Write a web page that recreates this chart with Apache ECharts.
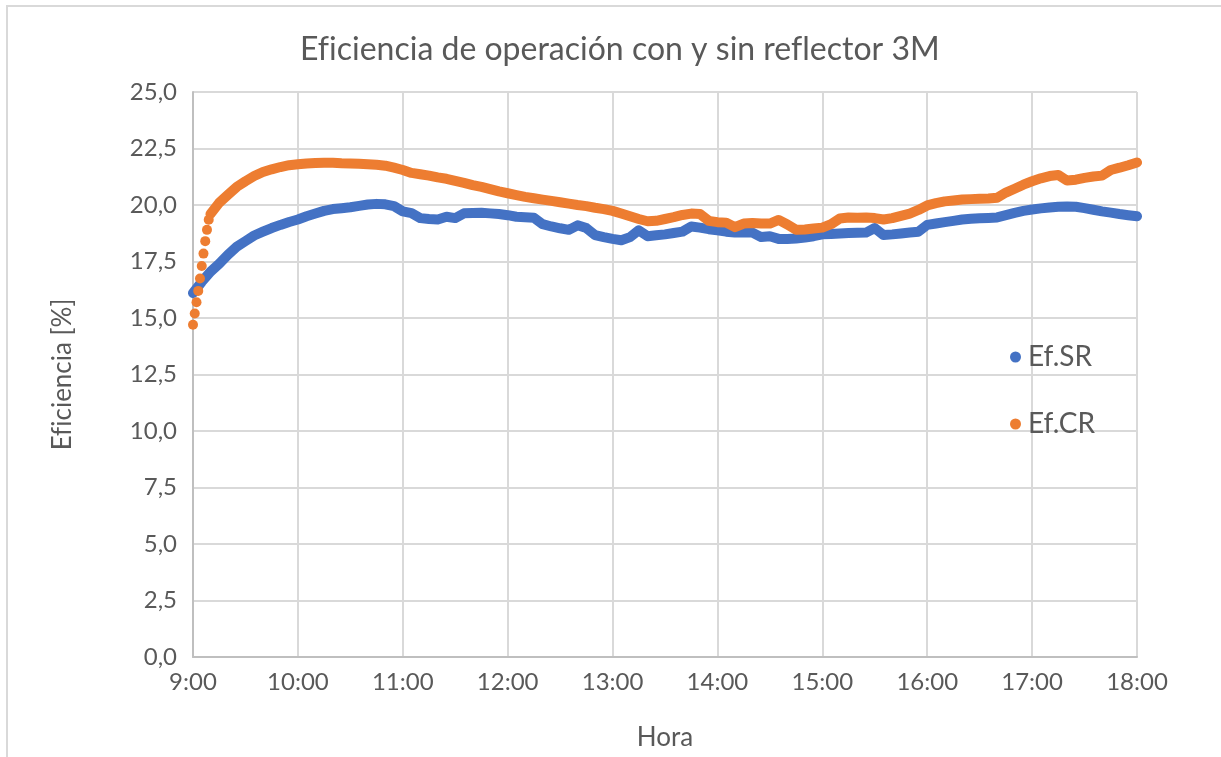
<!DOCTYPE html>
<html>
<head>
<meta charset="utf-8">
<script src="https://cdn.jsdelivr.net/npm/echarts@6/dist/echarts.min.js"></script>
<style>
html,body{margin:0;padding:0;background:#fff;overflow:hidden;}
#frame{position:absolute;left:6px;top:5px;width:1400px;height:900px;border-left:2px solid #d9d9d9;border-top:2px solid #d9d9d9;}
#c{position:absolute;left:0;top:0;width:1221px;height:757px;}
</style>
</head>
<body>
<div id="frame"></div>
<div id="c"></div>
<script>
// Time axis (minutes since midnight)
const startMin = 540, endMin = 1080;
const xTickLabels = ['9:00','10:00','11:00','12:00','13:00','14:00','15:00','16:00','17:00','18:00'];

// Ef.SR: every 5 min from 9:00 to 18:00
const efSR = [
  16.1, 16.6, 17.05, 17.4, 17.8, 18.15, 18.4, 18.65, 18.82, 18.98, 19.12, 19.25,
  19.36, 19.5, 19.62, 19.74, 19.82, 19.86, 19.9, 19.96, 20.02, 20.05, 20.03, 19.95,
  19.72, 19.64, 19.42, 19.38, 19.36, 19.48, 19.42, 19.63, 19.65, 19.66, 19.63, 19.6,
  19.55, 19.48, 19.46, 19.44, 19.15, 19.05, 18.97, 18.9, 19.1, 18.98, 18.67, 18.58,
  18.5, 18.44, 18.58, 18.88, 18.62, 18.66, 18.7, 18.76, 18.82, 19.05, 19.0, 18.93,
  18.88, 18.82, 18.78, 18.78, 18.78, 18.58, 18.62, 18.5, 18.5, 18.52, 18.56, 18.62,
  18.7, 18.72, 18.74, 18.76, 18.77, 18.78, 18.98, 18.67, 18.7, 18.74, 18.78, 18.82,
  19.12, 19.18, 19.24, 19.3, 19.36, 19.39, 19.41, 19.43, 19.45, 19.55, 19.65, 19.74,
  19.8, 19.85, 19.89, 19.92, 19.93, 19.92, 19.86, 19.79, 19.72, 19.66, 19.6, 19.55,
  19.5
];

// Ef.CR start-up: every minute from 9:00 to 9:09
const efCRStart = [14.7, 15.2, 15.7, 16.2, 16.75, 17.3, 17.85, 18.4, 18.9, 19.35];

// Ef.CR: every 5 min from 9:10 to 18:00
const efCR = [
  19.6, 20.1, 20.45, 20.8, 21.05, 21.28, 21.46, 21.58, 21.68, 21.76,
  21.8, 21.84, 21.86, 21.87, 21.87, 21.85, 21.84, 21.82, 21.8, 21.78, 21.74, 21.65,
  21.55, 21.42, 21.36, 21.3, 21.22, 21.16, 21.07, 20.98, 20.88, 20.8, 20.7, 20.6,
  20.52, 20.44, 20.36, 20.3, 20.24, 20.18, 20.12, 20.06, 20.0, 19.95, 19.88, 19.82,
  19.74, 19.62, 19.5, 19.38, 19.28, 19.3, 19.38, 19.46, 19.56, 19.62, 19.6, 19.3,
  19.24, 19.22, 19.02, 19.18, 19.2, 19.18, 19.18, 19.34, 19.14, 18.9, 18.92, 18.96,
  19.0, 19.15, 19.4, 19.45, 19.44, 19.45, 19.42, 19.36, 19.42, 19.52, 19.62, 19.78,
  19.98, 20.08, 20.16, 20.2, 20.24, 20.26, 20.28, 20.29, 20.32, 20.55, 20.72, 20.9,
  21.05, 21.18, 21.28, 21.33, 21.08, 21.12, 21.2, 21.26, 21.3, 21.55, 21.65, 21.76,
  21.88
];

const pairs = (t0, step, vals) => vals.map((v, i) => [t0 + i * step, v]);

const BLUE = '#4472c4', ORANGE = '#ed7d31', TXT = '#595959';
const FONT = 'Lato';
// zero-width non-joiner keeps "f" and "i" as separate letters (no ligature)
const ZWNJ = '\u200C';

const chart = echarts.init(document.getElementById('c'), null, {renderer: 'canvas'});
chart.setOption({
  backgroundColor: 'transparent',
  animation: false,
  textStyle: {fontFamily: FONT},
  title: {
    text: 'Ef' + ZWNJ + 'iciencia de operación con y sin ref' + ZWNJ + 'lector 3M',
    left: 295, top: 29,
    textStyle: {fontFamily: FONT, fontSize: 32, fontWeight: 'normal', color: TXT}
  },
  legend: {
    orient: 'vertical', left: 1005, top: 338, itemGap: 39,
    icon: 'circle', itemWidth: 11, itemHeight: 11,
    data: ['Ef.SR', 'Ef.CR'],
    textStyle: {fontFamily: FONT, fontSize: 28, color: TXT, padding: [0, 0, 0, 2]}
  },
  grid: {left: 193, right: 84, top: 92, bottom: 100, containLabel: false},
  xAxis: {
    type: 'value', min: startMin, max: endMin, interval: 60,
    name: 'Hora', nameLocation: 'middle', nameGap: 68,
    nameTextStyle: {fontFamily: FONT, fontSize: 26, color: TXT},
    axisLine: {show: true, lineStyle: {color: '#bfbfbf', width: 2}},
    axisTick: {show: false},
    axisLabel: {
      fontFamily: FONT, fontSize: 24, color: TXT, margin: 13,
      formatter: v => xTickLabels[Math.round((v - startMin) / 60)] || ''
    },
    splitLine: {show: true, lineStyle: {color: '#d9d9d9', width: 2}}
  },
  yAxis: {
    type: 'value', min: 0, max: 25, interval: 2.5,
    name: 'Ef' + ZWNJ + 'iciencia [%]', nameLocation: 'middle', nameGap: 117, nameRotate: 90,
    nameTextStyle: {fontFamily: FONT, fontSize: 26, color: TXT},
    axisLine: {show: true, lineStyle: {color: '#bfbfbf', width: 2}},
    axisTick: {show: false},
    axisLabel: {
      fontFamily: FONT, fontSize: 24, color: TXT, margin: 16,
      formatter: v => v.toFixed(1).replace('.', ',')
    },
    splitLine: {show: true, lineStyle: {color: '#d9d9d9', width: 2}}
  },
  series: [
    {
      name: 'Ef.SR', type: 'line', data: pairs(540, 5, efSR),
      showSymbol: false, symbol: 'circle', symbolSize: 10,
      itemStyle: {color: BLUE},
      lineStyle: {color: BLUE, width: 10, cap: 'round', join: 'round'},
      z: 3
    },
    {
      name: 'Ef.CR', type: 'scatter', data: pairs(540, 1, efCRStart),
      symbol: 'circle', symbolSize: 10,
      itemStyle: {color: ORANGE, opacity: 1}, z: 4
    },
    {
      name: 'Ef.CR', type: 'line', data: pairs(550, 5, efCR),
      showSymbol: false, symbol: 'circle', symbolSize: 10,
      itemStyle: {color: ORANGE},
      lineStyle: {color: ORANGE, width: 10, cap: 'round', join: 'round'},
      z: 4
    }
  ]
});
</script>
</body>
</html>
